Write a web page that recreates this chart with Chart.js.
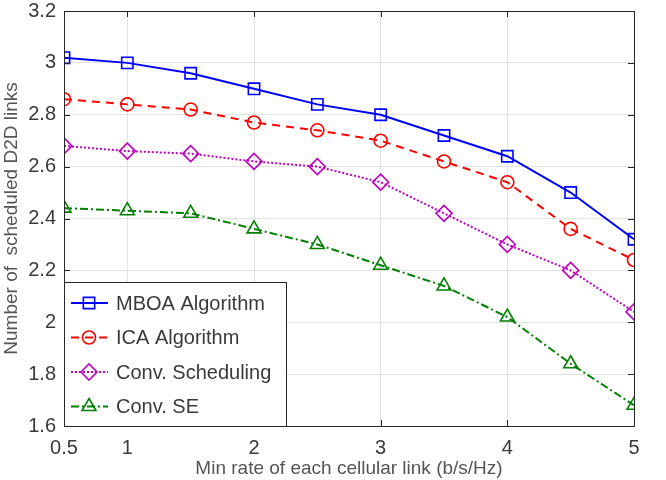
<!DOCTYPE html>
<html>
<head>
<meta charset="utf-8">
<script src="https://cdn.jsdelivr.net/npm/chart.js@4"></script>
<style>
  html, body { margin: 0; padding: 0; background: #fff; }
  #wrap { width: 666px; height: 480px; }
</style>
</head>
<body>
<div id="wrap"><canvas id="chart" width="666" height="480"></canvas></div>
<script>
// data
const rates = [0.5, 1, 1.5, 2, 2.5, 3, 3.5, 4, 4.5, 5];
const mboa = [3.02, 3.00, 2.96, 2.90, 2.84, 2.80, 2.72, 2.64, 2.50, 2.32];
const ica = [2.86, 2.84, 2.82, 2.77, 2.74, 2.70, 2.62, 2.54, 2.36, 2.24];
const convSched = [2.68, 2.66, 2.65, 2.62, 2.60, 2.54, 2.42, 2.30, 2.20, 2.04];
const convSE = [2.44, 2.43, 2.42, 2.36, 2.30, 2.22, 2.14, 2.02, 1.84, 1.68];
const xTicks = [0.5, 1, 2, 3, 4, 5];
const yTicks = [1.6, 1.8, 2, 2.2, 2.4, 2.6, 2.8, 3, 3.2];

const FONT = "'Liberation Sans', Arial, sans-serif";
const TXT = "#3a3a3a";

function pts(arr) {
    return arr.map((v, i) => ({ x: rates[i], y: v }));
}

function series(label, vals, color, dash, shape, r) {
    return {
        label: label,
        data: pts(vals),
        borderColor: color,
        backgroundColor: color,
        borderWidth: 2,
        borderDash: dash,
        pointStyle: shape,
        pointRadius: r,
        pointBackgroundColor: "rgba(0,0,0,0)",
        pointBorderColor: color,
        pointBorderWidth: 1.6,
        fill: false,
        tension: 0
    };
}

// box around the axes, inward ticks and legend in the lower left
const matlabBox = {
    id: "matlabBox",
    afterDraw(chart) {
        const c = chart.ctx, a = chart.chartArea;
        const xs = chart.scales.x, ys = chart.scales.y;
        c.save();
        c.strokeStyle = "#262626";
        c.lineWidth = 1;
        c.setLineDash([]);
        c.strokeRect(a.left + 0.5, a.top + 0.5, a.right - a.left, a.bottom - a.top);
        c.beginPath();
        xTicks.forEach(t => {
            const px = Math.round(xs.getPixelForValue(t)) + 0.5;
            c.moveTo(px, a.bottom); c.lineTo(px, a.bottom - 6);
            c.moveTo(px, a.top); c.lineTo(px, a.top + 6);
        });
        yTicks.forEach(t => {
            const py = Math.round(ys.getPixelForValue(t)) + 0.5;
            c.moveTo(a.left, py); c.lineTo(a.left + 6, py);
            c.moveTo(a.right, py); c.lineTo(a.right - 6, py);
        });
        c.stroke();

        // legend
        const lx = a.left, ly = 282, lw = 222, lh = a.bottom - ly;
        c.fillStyle = "#fff";
        c.fillRect(lx, ly, lw, lh);
        c.strokeStyle = "#262626";
        c.strokeRect(lx + 0.5, ly + 0.5, lw, lh);
        c.font = "20px " + FONT;
        c.textBaseline = "middle";
        chart.data.datasets.forEach((ds, i) => {
            const y = ly + 21 + i * 34.5;
            c.strokeStyle = ds.borderColor;
            c.lineWidth = 2;
            c.setLineDash(ds.borderDash || []);
            c.beginPath();
            c.moveTo(lx + 7, y); c.lineTo(lx + 44, y);
            c.stroke();
            c.setLineDash([]);
            c.lineWidth = 1.6;
            c.fillStyle = "rgba(255,255,255,0)";
            Chart.helpers.drawPoint(c, {
                pointStyle: ds.pointStyle,
                radius: ds.pointRadius,
                borderWidth: 1.6
            }, lx + 25, y);
            c.fillStyle = TXT;
            c.fillText(ds.label, lx + 52, y + 1);
        });
        c.restore();
    }
};

const ctx = document.getElementById("chart").getContext("2d");
new Chart(ctx, {
    type: "line",
    data: {
        datasets: [
            series("MBOA Algorithm", mboa, "#0000ff", [], "rect", 8),
            series("ICA Algorithm", ica, "#ff0000", [8, 6], "circle", 6.5),
            series("Conv. Scheduling", convSched, "#bf00bf", [2, 2], "rectRot", 8),
            series("Conv. SE", convSE, "#008000", [8, 3, 2, 3], "triangle", 8)
        ]
    },
    options: {
        responsive: false,
        animation: false,
        layout: { padding: { top: 11, right: 32, left: 0, bottom: 0 } },
        plugins: {
            legend: { display: false },
            tooltip: { enabled: false }
        },
        scales: {
            x: {
                type: "linear",
                min: 0.5,
                max: 5,
                afterBuildTicks: s => { s.ticks = xTicks.map(v => ({ value: v })); },
                afterFit: s => { s.height = 54; s.paddingLeft = 0; s.paddingRight = 0; },
                grid: { color: "#e3e3e3", drawTicks: false },
                border: { display: false },
                ticks: {
                    color: TXT,
                    font: { family: FONT, size: 20 },
                    padding: 10,
                    maxRotation: 0,
                    callback: v => String(v)
                },
                title: {
                    display: true,
                    text: "Min rate of each cellular link (b/s/Hz)",
                    color: "#555",
                    font: { family: FONT, size: 19 },
                    padding: { top: 0, bottom: 0 }
                }
            },
            y: {
                min: 1.6,
                max: 3.2,
                afterBuildTicks: s => { s.ticks = yTicks.map(v => ({ value: v })); },
                afterFit: s => { s.width = 64; s.paddingTop = 0; s.paddingBottom = 0; },
                grid: { color: "#e3e3e3", drawTicks: false },
                border: { display: false },
                ticks: {
                    color: TXT,
                    font: { family: FONT, size: 20 },
                    padding: 8,
                    callback: v => String(Math.round(v * 10) / 10)
                },
                title: {
                    display: true,
                    text: "Number of  scheduled D2D links",
                    color: "#555",
                    font: { family: FONT, size: 19 },
                    padding: { top: 0, bottom: 0 }
                }
            }
        }
    },
    plugins: [matlabBox]
});
</script>
</body>
</html>
